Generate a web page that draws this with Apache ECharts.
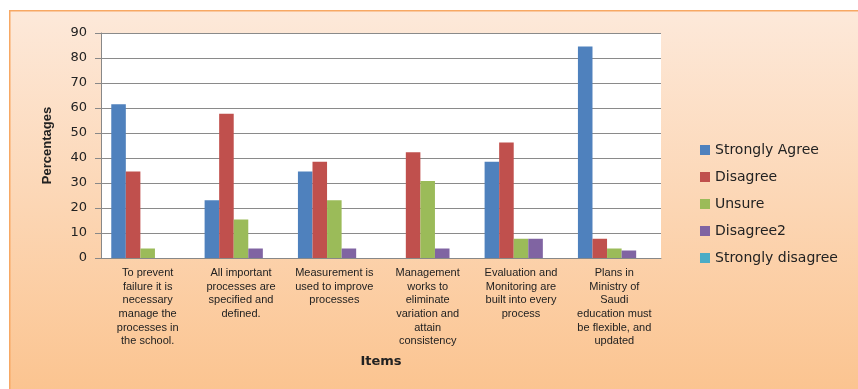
<!DOCTYPE html>
<html>
<head>
<meta charset="utf-8">
<script src="https://cdn.jsdelivr.net/npm/echarts@6/dist/echarts.min.js"></script>
<style>html,body{margin:0;padding:0;background:#fff;}#c{width:858px;height:389px;}</style>
</head>
<body>
<div id="c"></div>
<script>
var categories = [
  "To prevent\nfailure it is\nnecessary\nmanage the\nprocesses in\nthe school.",
  "All important\nprocesses are\nspecified and\ndefined.",
  "Measurement is\nused to improve\nprocesses",
  "Management\nworks to\neliminate\nvariation and\nattain\nconsistency",
  "Evaluation and\nMonitoring are\nbuilt into every\nprocess",
  "Plans in\nMinistry of\nSaudi\neducation must\nbe flexible, and\nupdated"
];
var seriesNames = ["Strongly Agree", "Disagree", "Unsure", "Disagree2", "Strongly disagree"];
var stronglyAgree = [61.5, 23.1, 34.6, 0, 38.5, 84.6];
var disagree = [34.6, 57.7, 38.5, 42.3, 46.2, 7.7];
var unsure = [3.8, 15.4, 23.1, 30.8, 7.7, 3.8];
var disagree2 = [0, 3.8, 3.8, 3.8, 7.7, 3.0];
var stronglyDisagree = [0, 0, 0, 0, 0, 0];
var yTicks = [0, 10, 20, 30, 40, 50, 60, 70, 80, 90];

var colors = ["#4f81bd", "#c0504d", "#9bbb59", "#8064a2", "#4bacc6"];
var allData = [stronglyAgree, disagree, unsure, disagree2, stronglyDisagree];

var chart = echarts.init(document.getElementById('c'));
chart.setOption({
  animation: false,
  color: colors,
  graphic: [{
    type: 'rect', left: 9, top: 10, z: -10,
    shape: {x: 0, y: 0, width: 860, height: 390},
    style: {
      fill: new echarts.graphic.LinearGradient(0, 0, 0, 1, [
        {offset: 0, color: '#fde9da'}, {offset: 1, color: '#fbc38e'}
      ]),
      stroke: '#f7a864', lineWidth: 1.5
    }
  }],
  grid: {left: 101, right: 197, top: 33, bottom: 131, show: true, backgroundColor: '#fff', borderWidth: 0},
  legend: {
    orient: 'vertical', left: 695, top: 138, itemGap: 13,
    itemWidth: 10, itemHeight: 10, icon: 'rect',
    textStyle: {fontFamily: 'DejaVu Sans', fontSize: 14, color: '#222'},
    data: seriesNames
  },
  xAxis: {
    type: 'category', data: categories,
    name: 'Items', nameLocation: 'middle', nameGap: 97,
    nameTextStyle: {fontFamily: 'DejaVu Sans', fontWeight: 'bold', fontSize: 13, color: '#222'},
    axisLine: {lineStyle: {color: '#888'}},
    axisTick: {show: false},
    axisLabel: {interval: 0, fontFamily: 'Liberation Sans', fontSize: 11, lineHeight: 13.7, color: '#222', margin: 8}
  },
  yAxis: {
    type: 'value', min: 0, max: 90, interval: 10,
    name: 'Percentages', nameLocation: 'middle', nameGap: 47, nameRotate: 90,
    nameTextStyle: {fontFamily: 'Liberation Sans Narrow, Liberation Sans', fontWeight: 'bold', fontSize: 13, color: '#222'},
    axisLine: {show: true, lineStyle: {color: '#888'}},
    axisTick: {show: true, length: 6, lineStyle: {color: '#888'}},
    splitLine: {lineStyle: {color: '#8a8a8a', width: 1}},
    axisLabel: {fontFamily: 'DejaVu Sans', fontSize: 13, color: '#222', margin: 14,
      formatter: function (v) { return yTicks.indexOf(v) >= 0 ? String(v) : ''; }}
  },
  series: seriesNames.map(function (n, i) {
    return {
      name: n, type: 'bar', data: allData[i],
      barGap: '0%', barCategoryGap: '22%',
      itemStyle: {color: colors[i], borderWidth: 0}
    };
  })
});
</script>
</body>
</html>
